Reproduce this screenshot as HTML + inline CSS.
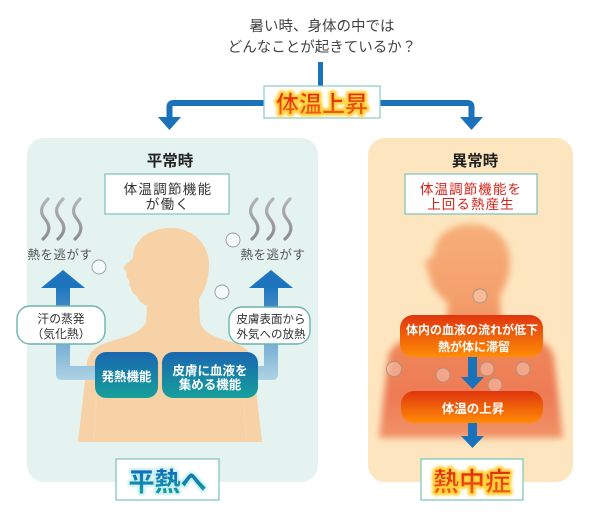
<!DOCTYPE html>
<html><head><meta charset="utf-8"><style>
html,body{margin:0;padding:0;background:#fff;}
svg{display:block;}
text{font-family:"Liberation Sans","Noto Sans CJK JP",sans-serif;}
</style></head><body>
<svg width="600" height="515" viewBox="0 0 600 515" xmlns="http://www.w3.org/2000/svg">
<defs>
 <linearGradient id="blueBox" x1="0" y1="0" x2="0" y2="1">
  <stop offset="0" stop-color="#1a66b1"/><stop offset="1" stop-color="#16a09b"/>
 </linearGradient>
 <linearGradient id="orBox" x1="0" y1="0" x2="0" y2="1">
  <stop offset="0" stop-color="#e0350e"/><stop offset="1" stop-color="#ff8c06"/>
 </linearGradient>
 <linearGradient id="shaftL" gradientUnits="userSpaceOnUse" x1="0" y1="284" x2="0" y2="380">
  <stop offset="0" stop-color="#1c73bc"/><stop offset="1" stop-color="#aed2e3"/>
 </linearGradient>
 <linearGradient id="steam" x1="0" y1="0" x2="0" y2="1">
  <stop offset="0" stop-color="#b5b5b5"/><stop offset="1" stop-color="#8d8d8d"/>
 </linearGradient>
 <linearGradient id="redTxt" x1="0" y1="0" x2="0" y2="1">
  <stop offset="0" stop-color="#e0200c"/><stop offset="1" stop-color="#f26a12"/>
 </linearGradient>
 <linearGradient id="tealTxt" x1="0" y1="0" x2="0" y2="1">
  <stop offset="0" stop-color="#1168bd"/><stop offset="1" stop-color="#12a3a0"/>
 </linearGradient>
 <linearGradient id="hotBody" gradientUnits="userSpaceOnUse" x1="0" y1="222" x2="0" y2="445">
  <stop offset="0" stop-color="#f6b07a"/>
  <stop offset="0.35" stop-color="#f4a06c"/>
  <stop offset="0.6" stop-color="#ee8459"/>
  <stop offset="0.8" stop-color="#ed7b55"/>
  <stop offset="1" stop-color="#f29468"/>
 </linearGradient>
 <filter id="blur" x="-20%" y="-20%" width="140%" height="140%"><feGaussianBlur stdDeviation="3.5"/></filter>
 <filter id="glow" x="-20%" y="-40%" width="140%" height="180%"><feGaussianBlur stdDeviation="1.2"/></filter>
 <path id="body" d="M171,228 C193,228 209,244 209,265 C209,281 204,291 199,299 L200,322 C203,333 216,338 232,342 C245,346 251,352 253,362 L262,442 L78,442 L87,362 C89,352 96,346 108,342 C126,337 141,333 146,322 L147,306 C142,304 138,300 137,296 C134,294 131,292 131,288 L129,285 C130,282 129,279 127,278 C126,276 127,273 126,271 L123,268 C125,265 129,262 133,258 C133,240 149,228 171,228 Z"/>
</defs>

<!-- Title -->
<text x="322" y="31" font-size="14.5" fill="#444" text-anchor="middle">暑い時、身体の中では</text>
<text x="322" y="52" font-size="14.5" fill="#444" text-anchor="middle">どんなことが起きているか？</text>

<!-- top connectors -->
<rect x="318" y="62" width="5" height="26" fill="#1a72bb"/>
<path d="M169.5,118 V107 Q169.5,103 173.5,103 H467.5 Q471.5,103 471.5,107 V118" fill="none" stroke="#1a72bb" stroke-width="6"/>
<polygon points="158,117 181,117 169.5,130" fill="#1a72bb"/>
<polygon points="460,117 483,117 471.5,130" fill="#1a72bb"/>
<rect x="264" y="86" width="116" height="32" fill="#fff" stroke="#8ccbc5" stroke-width="1.2"/>
<text x="322" y="112" font-size="23" font-weight="bold" text-anchor="middle" fill="none" stroke="#ffd23a" stroke-width="5" stroke-linejoin="round" filter="url(#glow)">体温上昇</text>
<text x="322" y="112" font-size="23" font-weight="bold" text-anchor="middle" fill="url(#redTxt)" stroke="#ffc93a" stroke-width="0.6">体温上昇</text>

<!-- Panels -->
<rect x="27" y="138" width="291" height="344" rx="17" fill="#e4f3f0"/>
<rect x="368" y="138" width="205" height="344" rx="17" fill="#fde6bf"/>

<!-- LEFT PANEL -->
<text x="170" y="166" font-size="15.5" font-weight="bold" fill="#222" text-anchor="middle">平常時</text>
<rect x="105" y="174" width="124" height="40" fill="#fff" stroke="#7cc0bb" stroke-width="1.2"/>
<text x="168" y="194" font-size="13.5" fill="#333" text-anchor="middle" letter-spacing="1.3">体温調節機能</text>
<text x="168" y="209" font-size="13.5" fill="#333" text-anchor="middle" letter-spacing="1.3">が働く</text>

<!-- steam -->
<g fill="none" stroke="url(#steam)" stroke-width="3.2" stroke-linecap="round">
 <path d="M48,199 C40,207 40,213 45,219 S51,232 43,239"/>
 <path d="M63,199 C55,207 55,213 60,219 S66,232 58,239"/>
 <path d="M80,199 C72,207 72,213 77,219 S83,232 75,239"/>
 <path d="M257,199 C249,207 249,213 254,219 S260,232 252,239"/>
 <path d="M273,199 C265,207 265,213 270,219 S276,232 268,239"/>
 <path d="M290,199 C282,207 282,213 287,219 S293,232 285,239"/>
</g>
<text x="60" y="259" font-size="12.5" fill="#555" text-anchor="middle" letter-spacing="0.5">熱を逃がす</text>
<text x="273" y="259" font-size="12.5" fill="#555" text-anchor="middle" letter-spacing="0.5">熱を逃がす</text>

<!-- body -->
<use href="#body" fill="#f7d2a6"/>
<g stroke="#fbdcb8" stroke-width="1" opacity="0.7">
 <line x1="97" y1="385" x2="94" y2="442"/>
 <line x1="243" y1="385" x2="246" y2="442"/>
</g>

<!-- bubbles left -->
<g fill="#fff" fill-opacity="0.55" stroke="#9a9a9a" stroke-width="0.9">
 <circle cx="233" cy="240" r="7"/>
 <circle cx="99" cy="267" r="7"/>
 <circle cx="222" cy="292" r="7"/>
</g>

<!-- L arrows -->
<path d="M56,286 H70 V366 H102 V380 H62 Q56,380 56,374 Z" fill="url(#shaftL)"/>
<polygon points="41,288 85,288 63,270" fill="#1d74bd"/>
<path d="M264,286 H278 V374 Q278,380 272,380 H255 V366 H264 Z" fill="url(#shaftL)"/>
<polygon points="249,288 293,288 271,270" fill="#1d74bd"/>

<!-- white labels -->
<rect x="17" y="306" width="88" height="38" rx="13" fill="#fff" stroke="#6cb3ae" stroke-width="1.4"/>
<text x="61" y="323" font-size="11.8" fill="#333" text-anchor="middle">汗の蒸発</text>
<text x="61" y="338" font-size="11.8" fill="#333" text-anchor="middle">（気化熱）</text>
<rect x="229" y="307" width="81" height="37" rx="13" fill="#fff" stroke="#6cb3ae" stroke-width="1.4"/>
<text x="271" y="323" font-size="11.5" fill="#333" text-anchor="middle">皮膚表面から</text>
<text x="271" y="338" font-size="11.5" fill="#333" text-anchor="middle">外気への放熱</text>

<!-- blue boxes -->
<rect x="95" y="352" width="63" height="46" rx="11" fill="url(#blueBox)"/>
<text x="126.5" y="381" font-size="12.5" font-weight="bold" fill="#fff" text-anchor="middle">発熱機能</text>
<rect x="162" y="352" width="96" height="46" rx="11" fill="url(#blueBox)"/>
<text x="210" y="375" font-size="12.5" font-weight="bold" fill="#fff" text-anchor="middle">皮膚に血液を</text>
<text x="210" y="389" font-size="12.5" font-weight="bold" fill="#fff" text-anchor="middle">集める機能</text>

<!-- bottom left -->
<rect x="116" y="459" width="103" height="41" fill="#fff" stroke="#7cc0bb" stroke-width="1.2"/>
<text x="167.5" y="491" font-size="26" font-weight="bold" text-anchor="middle" fill="none" stroke="#c6eeee" stroke-width="4" stroke-linejoin="round" filter="url(#glow)">平熱へ</text>
<text x="167.5" y="491" font-size="26" font-weight="bold" text-anchor="middle" fill="url(#tealTxt)">平熱へ</text>

<!-- RIGHT PANEL -->
<text x="475" y="166" font-size="15.5" font-weight="bold" fill="#222" text-anchor="middle">異常時</text>
<rect x="405" y="174" width="132" height="40" fill="#fff" stroke="#7cc0bb" stroke-width="1.2"/>
<text x="471" y="194" font-size="13.5" fill="#d8231a" text-anchor="middle" letter-spacing="1.1">体温調節機能を</text>
<text x="471" y="209" font-size="13.5" fill="#d8231a" text-anchor="middle" letter-spacing="1.1">上回る熱産生</text>

<use href="#body" transform="translate(301,-4)" fill="url(#hotBody)" filter="url(#blur)"/>

<!-- bubbles right -->
<g fill="#fff" fill-opacity="0.3" stroke="#a89080" stroke-opacity="0.9" stroke-width="1">
 <circle cx="480" cy="296" r="7"/>
 <circle cx="394" cy="369" r="7.5"/>
 <circle cx="443" cy="375" r="7"/>
 <circle cx="487" cy="369" r="7"/>
 <circle cx="523" cy="369" r="7"/>
 <circle cx="495" cy="385" r="7"/>
</g>

<rect x="400" y="315" width="143" height="42" rx="13" fill="url(#orBox)"/>
<text x="472" y="334" font-size="12" font-weight="bold" fill="#fff" text-anchor="middle">体内の血液の流れが低下</text>
<text x="474" y="351" font-size="12" font-weight="bold" fill="#fff" text-anchor="middle">熱が体に滞留</text>

<rect x="468" y="357" width="9" height="22" fill="#1a72bb"/>
<polygon points="461,377 484,377 472.5,389" fill="#1a72bb"/>

<rect x="401" y="391" width="142" height="32" rx="13" fill="url(#orBox)"/>
<text x="473" y="413" font-size="12.5" font-weight="bold" fill="#fff" text-anchor="middle">体温の上昇</text>

<rect x="468" y="423" width="9" height="14" fill="#1a72bb"/>
<polygon points="461,436 484,436 472.5,448" fill="#1a72bb"/>

<rect x="421" y="459" width="102" height="41" fill="#fff" stroke="#7cc0bb" stroke-width="1.2"/>
<text x="472" y="491" font-size="26" font-weight="bold" text-anchor="middle" fill="none" stroke="#ffd23a" stroke-width="5" stroke-linejoin="round" filter="url(#glow)">熱中症</text>
<text x="472" y="491" font-size="26" font-weight="bold" text-anchor="middle" fill="url(#redTxt)" stroke="#ffc93a" stroke-width="0.6">熱中症</text>
</svg>
</body></html>
